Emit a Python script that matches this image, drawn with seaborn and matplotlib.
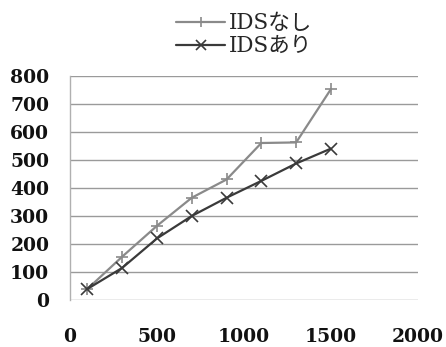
import matplotlib
matplotlib.use("Agg")
import matplotlib.pyplot as plt
import seaborn as sns
import pandas as pd

x_values = [100, 300, 500, 700, 900, 1100, 1300, 1500]
ids_nashi = [40, 155, 265, 365, 430, 560, 562, 752]
ids_ari = [40, 115, 220, 300, 365, 425, 487, 540]
series_names = ["IDSなし", "IDSあり"]
x_ticks = [0, 500, 1000, 1500, 2000]
y_ticks = [0, 100, 200, 300, 400, 500, 600, 700, 800]

sns.set_theme(style="white")
plt.rcParams['font.family'] = ['DejaVu Serif', 'Noto Sans CJK JP']

fig = plt.figure(figsize=(4.46, 3.47), dpi=100)
ax = fig.add_axes([0.157, 0.135, 0.78, 0.647])

colors = ["#8a8a8a", "#3a3a3a"]
markers = ["+", "x"]
for name, vals, c, m in zip(series_names, [ids_nashi, ids_ari], colors, markers):
    df = pd.DataFrame({"x": x_values, "y": vals})
    sns.lineplot(data=df, x="x", y="y", color=c, marker=m, markersize=9,
                 markeredgewidth=1.2, markeredgecolor=c, linewidth=1.6,
                 label=name, ax=ax)

ax.set_xlim(0, 2000)
ax.set_ylim(0, 800)
ax.set_xticks(x_ticks)
ax.set_yticks(y_ticks)
ax.set_xlabel("")
ax.set_ylabel("")
ax.yaxis.grid(True, color="#9a9a9a", linewidth=1.0)
ax.xaxis.grid(False)
for s in ["top", "right", "bottom"]:
    ax.spines[s].set_visible(False)
ax.spines["left"].set_color("#b0b0b0")
ax.spines["left"].set_linewidth(1.0)
ax.tick_params(axis="both", length=0, labelsize=13.5, colors="#111111")
ax.tick_params(axis="x", pad=20)
ax.tick_params(axis="y", pad=15)
for lab in ax.get_xticklabels() + ax.get_yticklabels():
    lab.set_fontweight("bold")

handles, labels = ax.get_legend_handles_labels()
ax.legend(handles, labels, loc="lower center", bbox_to_anchor=(0.50, 1.02),
          frameon=False, fontsize=15.5, handlelength=2.3, handletextpad=0.15,
          labelspacing=0.05, borderpad=0.15, markerscale=0.8)

fig.savefig("out.png", dpi=100, facecolor="white")
